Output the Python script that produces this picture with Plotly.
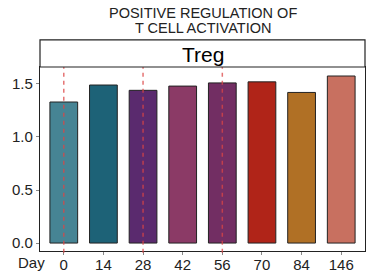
import plotly.graph_objects as go

days = ["0", "14", "28", "42", "56", "70", "84", "146"]
values = [1.33, 1.49, 1.44, 1.48, 1.51, 1.52, 1.42, 1.575]
colors = ["#468494", "#1d6277", "#5a2a6e", "#8b3a66", "#722e63", "#b02418", "#b07025", "#c87060"]
dashed_days = ["0", "28", "56"]
y_ticks = [0.0, 0.5, 1.0, 1.5]
title_lines = ["POSITIVE REGULATION OF", "T CELL ACTIVATION"]
strip_text = "Treg"

font = "Liberation Sans, Arial, sans-serif"
xidx = list(range(len(days)))

fig = go.Figure()
fig.add_trace(go.Bar(
    x=xidx, y=values, width=0.7,
    marker=dict(color=colors, line=dict(color="#222222", width=1)),
    showlegend=False,
))

for d in dashed_days:
    i = days.index(d)
    fig.add_shape(type="line", xref="x", yref="paper", x0=i, x1=i, y0=-0.01, y1=1,
                  line=dict(color="rgba(220,70,70,0.75)", width=1.5, dash="4px,4px"), layer="above")

fig.update_layout(
    width=376, height=276,
    margin=dict(l=40, r=11, t=67, b=25, autoexpand=False),
    paper_bgcolor="white", plot_bgcolor="white",
    font=dict(family=font, color="#222222"),
    xaxis=dict(
        range=[-0.6, len(days) - 0.4], automargin=False,
        tickmode="array", tickvals=xidx, ticktext=days,
        showline=True, linecolor="#222222", linewidth=1.2, mirror=True,
        ticks="outside", ticklen=3, tickcolor="#888888",
        tickfont=dict(size=15, color="#222222"), ticklabelstandoff=-3,
        showgrid=False, zeroline=False,
    ),
    yaxis=dict(
        range=[-0.075, 1.66], automargin=False,
        tickmode="array", tickvals=y_ticks, ticktext=[f"{v:.1f}" for v in y_ticks],
        showline=True, linecolor="#222222", linewidth=1.2, mirror=True,
        ticks="outside", ticklen=3, tickcolor="#888888",
        tickfont=dict(size=15, color="#222222"),
        showgrid=False, zeroline=False,
    ),
)

# strip box
fig.add_shape(type="rect", xref="paper", yref="paper", x0=0, x1=1, y0=1, y1=1.147,
              line=dict(color="#222222", width=1.2), fillcolor="white")
fig.add_annotation(text=strip_text, xref="paper", yref="paper", x=0.5, y=1.068,
                   showarrow=False, font=dict(size=21, color="black", family=font),
                   xanchor="center", yanchor="middle")
for line, yy in zip(title_lines, [1.292, 1.213]):
    fig.add_annotation(text=line, xref="paper", yref="paper", x=0.5, y=yy,
                       showarrow=False, font=dict(size=14.5, color="#222222", family=font),
                       xanchor="center", yanchor="middle")
fig.add_annotation(text="Day", xref="paper", yref="paper", x=0.022, y=-0.005,
                   showarrow=False, font=dict(size=15, color="#222222", family=font),
                   xanchor="right", yanchor="top")

fig.write_html("out.html", config={"displayModeBar": False},
               post_script="document.body.style.margin='0';document.body.style.overflow='hidden';")
